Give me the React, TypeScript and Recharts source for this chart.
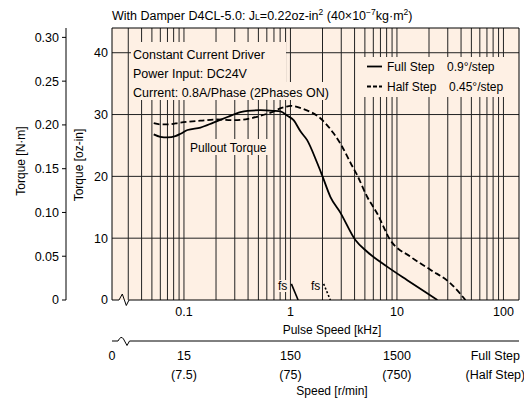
import { LineChart, Line, XAxis, YAxis, ReferenceLine } from "recharts";

const FONT = "'Liberation Sans', Arial, sans-serif";
const NM_PER_OZIN = 0.0070616;

// pullout torque, full step (kHz / oz-in)
const fullStepKHz = [0.052, 0.06, 0.07, 0.083, 0.093, 0.108, 0.143, 0.189, 0.256, 0.339, 0.395, 0.523, 0.692, 0.806, 0.937, 1.07, 1.25, 1.43, 1.78, 1.98, 2.37, 2.95, 4.07, 5.25, 8.08, 12.5, 18, 24];
const fullStepTorque = [26.8, 26.4, 26.3, 26.5, 26.9, 27.5, 27.9, 28.7, 29.6, 30.4, 30.6, 30.7, 30.6, 30.5, 29.8, 29.1, 27.2, 25.9, 22.2, 20.2, 16.7, 14.1, 9.7, 7.8, 5.4, 3.2, 1.4, 0];

// pullout torque, half step
const halfStepKHz = [0.052, 0.06, 0.07, 0.093, 0.143, 0.2, 0.3, 0.4, 0.5, 0.6, 0.7, 0.8, 0.9, 1.0, 1.32, 1.91, 2.53, 3.06, 3.66, 4.23, 5.25, 6.52, 8.66, 13.4, 20.6, 31.8, 44];
const halfStepTorque = [28.6, 28.4, 28.4, 28.7, 29.0, 29.2, 29.1, 29.3, 29.7, 30.1, 30.5, 31.0, 31.25, 31.4, 30.9, 29.4, 27.0, 24.8, 22.2, 20.2, 16.7, 14.0, 9.7, 7.0, 4.9, 2.7, 0];

// max starting frequency marks
const fsFullKHz = [1.02, 1.18];
const fsFullTorque = [2.6, 0];
const fsHalfKHz = [2.05, 2.37];
const fsHalfTorque = [2.6, 0];

const gridKHz = [0.03, 0.04, 0.05, 0.06, 0.07, 0.08, 0.09, 0.1, 0.2, 0.3, 0.4, 0.5, 0.6, 0.7, 0.8, 0.9, 1, 2, 3, 4, 5, 6, 7, 8, 9, 10, 20, 30, 40, 50, 60, 70, 80, 90, 100];
const ozTicks = [0, 10, 20, 30, 40];
const ozGrid = [10, 20, 30, 40];
const nmTicks = [0, 0.05, 0.1, 0.15, 0.2, 0.25, 0.3];
const khzTicks = [0.1, 1, 10, 100];
const rpmTickKHz = [0.0211, 0.1, 1, 10, 84];
const rpmFull = ["0", "15", "150", "1500", "Full Step"];
const rpmHalf = ["", "(7.5)", "(75)", "(750)", "(Half Step)"];

const zip = (f: number[], t: number[]) => f.map((v, i) => ({ f: v, t: t[i] }));

const X_DOMAIN = [0.0211, 140];
const Y_MAX = 44;

function RpmTick(props: any) {
  const { x, y, payload } = props;
  const i = rpmTickKHz.indexOf(payload.value);
  return (
    <g>
      <text x={x} y={y + 18.5} textAnchor="middle" fontSize={12.5} fontFamily={FONT} fill="#000">{rpmFull[i]}</text>
      <text x={x} y={y + 37.5} textAnchor="middle" fontSize={12.5} fontFamily={FONT} fill="#000">{rpmHalf[i]}</text>
    </g>
  );
}

const BG = "#fef0e4";

export default function App() {
  const tickStyle = { fontSize: 12.5, fontFamily: FONT, fill: "#000" };
  return (
    <div style={{ position: "absolute", left: 0, top: 0, width: 524, height: 402, fontFamily: FONT }}>
      {/* plot background */}
      <svg width={524} height={402} style={{ position: "absolute", left: 0, top: 0 }}>
        <rect x={112} y={28} width={407} height={272} fill={BG} />
      </svg>
      <div style={{ position: "absolute", left: 0, top: 0 }}>
        <LineChart width={524} height={402} margin={{ top: 28, right: 5, bottom: 0, left: 0 }}>
          <XAxis xAxisId="a_khz" type="number" dataKey="f" scale="log" domain={X_DOMAIN} allowDataOverflow
            ticks={khzTicks} interval={0} tickFormatter={(v: number) => String(v)} height={41}
            axisLine={false} tickLine={false} tickSize={0} tickMargin={7} tick={tickStyle} />
          <XAxis xAxisId="b_rpm" type="number" dataKey="f" scale="log" domain={X_DOMAIN} allowDataOverflow
            ticks={rpmTickKHz} interval={0} height={61} axisLine={false} tickLine={false} tickSize={0} tickMargin={0}
            tick={<RpmTick />} />
          <YAxis yAxisId="a_oz" type="number" domain={[0, Y_MAX]} ticks={ozTicks} interval={0} width={46}
            axisLine={false} tickLine={false} tickSize={0} tickMargin={4} tick={tickStyle} allowDataOverflow />
          <YAxis yAxisId="b_nm" type="number" domain={[0, Y_MAX * NM_PER_OZIN]} ticks={nmTicks} interval={0} width={66}
            axisLine={{ stroke: "#000" }} tickLine={{ stroke: "#000" }} tickSize={4} tickMargin={3} tick={tickStyle}
            tickFormatter={(v: number) => (v === 0 ? "0" : v.toFixed(2))} allowDataOverflow />

          {gridKHz.map((v) => (
            <ReferenceLine key={"vx" + v} xAxisId="a_khz" yAxisId="a_oz" x={v} stroke="#222" strokeWidth={1} />
          ))}
          {ozGrid.map((v) => (
            <ReferenceLine key={"hy" + v} xAxisId="a_khz" yAxisId="a_oz" y={v} stroke="#222" strokeWidth={1} />
          ))}

          <Line xAxisId="a_khz" yAxisId="a_oz" data={zip(halfStepKHz, halfStepTorque)} dataKey="t" type="monotone"
            stroke="#000" strokeWidth={1.8} strokeDasharray="6 3" dot={false} activeDot={false} isAnimationActive={false} />
          <Line xAxisId="a_khz" yAxisId="a_oz" data={zip(fullStepKHz, fullStepTorque)} dataKey="t" type="monotone"
            stroke="#000" strokeWidth={1.8} dot={false} activeDot={false} isAnimationActive={false} />
          <Line xAxisId="a_khz" yAxisId="a_oz" data={zip(fsFullKHz, fsFullTorque)} dataKey="t" type="linear"
            stroke="#000" strokeWidth={1.6} dot={false} activeDot={false} isAnimationActive={false} />
          <Line xAxisId="a_khz" yAxisId="a_oz" data={zip(fsHalfKHz, fsHalfTorque)} dataKey="t" type="linear"
            stroke="#000" strokeWidth={1.6} strokeDasharray="2 2" dot={false} activeDot={false} isAnimationActive={false} />
        </LineChart>
      </div>

      <svg width={524} height={402} style={{ position: "absolute", left: 0, top: 0, pointerEvents: "none" }}>
        {/* plot frame with axis break */}
        <path d="M112,300 L119,300 L122.3,294 L126.3,305.5 L129,300 L519,300 L519,28 L112,28 Z" fill="none" stroke="#000" strokeWidth={1} />
        {/* speed axis with break */}
        <path d="M112,341 L118,341 Q121,335 123.5,339 L127,345.5 L129.5,341 L519,341" fill="none" stroke="#000" strokeWidth={1} />

        <text x={112} y={20} fontSize={12.5} fontFamily={FONT} fill="#000">
          With Damper D4CL-5.0: J<tspan fontSize={8.5}>L</tspan>=0.22oz-in<tspan fontSize={8.5} dy={-5}>2</tspan>
          <tspan dy={5}> (40×10</tspan><tspan fontSize={8.5} dy={-5}>−7</tspan><tspan dy={5}>kg·m</tspan>
          <tspan fontSize={8.5} dy={-5}>2</tspan><tspan dy={5}>)</tspan>
        </text>

        {/* driver conditions */}
        <rect x={131} y={42} width={155} height={41} fill={BG} />
        <rect x={131} y={82} width={200} height={18} fill={BG} />
        <text fontSize={12.5} fontFamily={FONT} fill="#000">
          <tspan x={133} y={58.5}>Constant Current Driver</tspan>
          <tspan x={133} y={77.5}>Power Input: DC24V</tspan>
          <tspan x={133} y={96.5}>Current: 0.8A/Phase (2Phases ON)</tspan>
        </text>

        {/* legend */}
        <rect x={362} y={57} width={150} height={40} fill={BG} />
        <line x1={367} x2={382} y1={66.5} y2={66.5} stroke="#000" strokeWidth={1.8} />
        <line x1={367} x2={382} y1={86.5} y2={86.5} stroke="#000" strokeWidth={1.8} strokeDasharray="4 2" />
        <text fontSize={12} fontFamily={FONT} fill="#000">
          <tspan x={387} y={71}>Full Step</tspan>
          <tspan x={447} y={71}>0.9°/step</tspan>
          <tspan x={387} y={91}>Half Step</tspan>
          <tspan x={449} y={91}>0.45°/step</tspan>
        </text>

        <rect x={188} y={139} width={82} height={16} fill={BG} />
        <text x={190} y={151.5} fontSize={12} fontFamily={FONT} fill="#000">Pullout Torque</text>

        <rect x={277} y={280} width={11} height={12} fill={BG} />
        <rect x={310} y={280} width={11} height={12} fill={BG} />
        <text x={278} y={290} fontSize={12} fontFamily={FONT} fill="#000">fs</text>
        <text x={311} y={290} fontSize={12} fontFamily={FONT} fill="#000">fs</text>

        {/* axis titles */}
        <text transform="translate(25,161) rotate(-90)" textAnchor="middle" fontSize={12} fontFamily={FONT} fill="#000">Torque [N·m]</text>
        <text transform="translate(83,165) rotate(-90)" textAnchor="middle" fontSize={12} fontFamily={FONT} fill="#000">Torque [oz-in]</text>
        <text x={332} y={333.5} textAnchor="middle" fontSize={12} fontFamily={FONT} fill="#000">Pulse Speed [kHz]</text>
        <text x={332} y={394.5} textAnchor="middle" fontSize={12} fontFamily={FONT} fill="#000">Speed [r/min]</text>
      </svg>
    </div>
  );
}
